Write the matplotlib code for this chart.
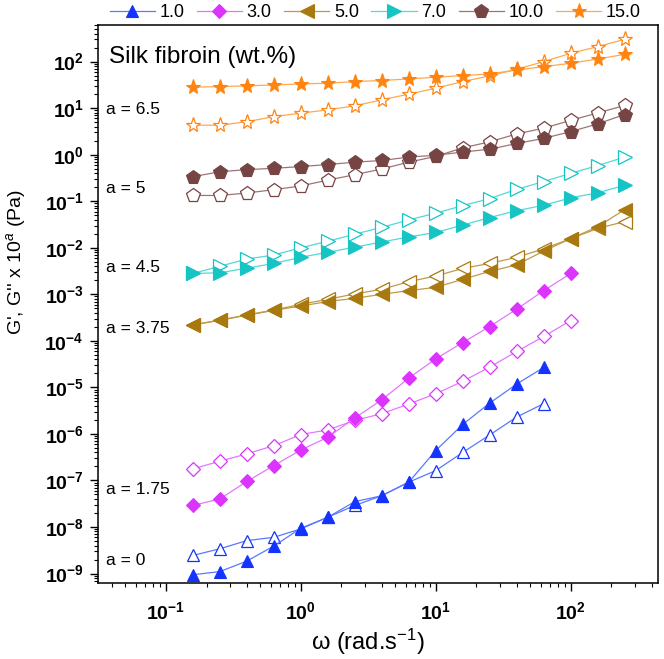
import math
import matplotlib
matplotlib.use('Agg')
import matplotlib.pyplot as plt
from matplotlib.ticker import LogLocator, FuncFormatter, NullFormatter

plt.rcParams['font.family'] = ['Liberation Sans', 'DejaVu Sans']
plt.rcParams['mathtext.fontset'] = 'custom'
plt.rcParams['mathtext.rm'] = 'Liberation Sans'
plt.rcParams['mathtext.it'] = 'Liberation Sans:italic'
plt.rcParams['mathtext.bf'] = 'Liberation Sans:bold'

# angular frequency (rad/s), 5 points per decade
omega = [0.158, 0.251, 0.398, 0.631, 1.0, 1.585, 2.51, 3.98, 6.31, 10.0,
         15.85, 25.1, 39.8, 63.1, 100.0, 158.5, 251.0]

# shifted moduli G' (filled) and G'' (open), by silk fibroin concentration
g1_p = [9.4e-10, 1.1e-9, 1.85e-9, 3.9e-9, 9.4e-9, 1.62e-8, 3.5e-8, 4.7e-8,
        9.2e-8, 4.4e-7, 1.6e-6, 4.6e-6, 1.18e-5, 2.68e-5]
g1_pp = [2.44e-9, 3.4e-9, 5.1e-9, 6.0e-9, 9.1e-9, 1.62e-8, 2.9e-8, 4.7e-8,
         9.2e-8, 1.63e-7, 4.0e-7, 9.5e-7, 2.31e-6, 4.47e-6]

g3_p = [2.9e-8, 4.0e-8, 9.5e-8, 2.09e-7, 4.5e-7, 8.5e-7, 2.2e-6, 5.4e-6,
        1.58e-5, 4.1e-5, 9.2e-5, 2.03e-4, 4.8e-4, 1.2e-3, 2.8e-3]
g3_pp = [1.77e-7, 2.59e-7, 3.72e-7, 5.6e-7, 9.7e-7, 1.22e-6, 1.95e-6, 2.72e-6,
         4.4e-6, 7.3e-6, 1.35e-5, 2.73e-5, 5.9e-5, 1.24e-4, 2.73e-4]

g5_p = [2.2e-4, 2.75e-4, 3.55e-4, 4.5e-4, 5.6e-4, 7.0e-4, 8.2e-4, 1.0e-3,
        1.2e-3, 1.41e-3, 2.1e-3, 3.1e-3, 4.3e-3, 8.5e-3, 1.57e-2, 2.84e-2, 6.6e-2]
g5_pp = [2.2e-4, 2.8e-4, 3.6e-4, 4.6e-4, 6.1e-4, 7.8e-4, 1.02e-3, 1.28e-3,
         1.87e-3, 2.47e-3, 3.6e-3, 4.6e-3, 6.25e-3, 9.5e-3, 1.57e-2, 2.6e-2, 3.65e-2]

g7_p = [2.8e-3, 2.9e-3, 3.65e-3, 4.6e-3, 6.25e-3, 8.0e-3, 1.03e-2, 1.33e-2,
        1.71e-2, 2.13e-2, 3.08e-2, 4.46e-2, 6.25e-2, 8.2e-2, 0.118, 0.152, 0.22]
g7_pp = [2.8e-3, 4.0e-3, 5.74e-3, 7.0e-3, 1.0e-2, 1.38e-2, 1.96e-2, 2.74e-2,
         3.97e-2, 5.56e-2, 8.04e-2, 0.114, 0.18, 0.265, 0.397, 0.584, 0.889]

g10_p = [0.336, 0.43, 0.477, 0.51, 0.555, 0.614, 0.69, 0.75, 0.89, 0.97,
         1.14, 1.31, 1.74, 2.24, 3.13, 4.6, 7.3]
g10_pp = [0.133, 0.133, 0.15, 0.177, 0.213, 0.284, 0.371, 0.493, 0.69, 0.92,
          1.4, 1.89, 2.79, 3.71, 5.46, 7.9, 11.4]

g15_p = [28.2, 29.1, 30.1, 31.6, 33.2, 34.3, 37.3, 39.2, 42.5, 46.1, 50.1,
         54.4, 66.0, 78.0, 92.0, 114.0, 143.0]
g15_pp = [4.3, 4.3, 5.1, 6.6, 7.8, 9.2, 11.2, 15.1, 20.0, 26.8, 37.3, 49.3,
          68.5, 100.0, 151.0, 210.0, 301.0]

labels = ['1.0', '3.0', '5.0', '7.0', '10.0', '15.0']
shift_labels = ['a = 0', 'a = 1.75', 'a = 3.75', 'a = 4.5', 'a = 5', 'a = 6.5']
shift_label_y = [1.86e-9, 6.5e-8, 1.8e-4, 3.7e-3, 0.184, 9.2]
x_ticks = [0.1, 1, 10, 100]
y_ticks = [10.0 ** k for k in range(-9, 3)]

series = [
    (g1_p, g1_pp, '^', '#1433ff', '#5a78ff', 9),
    (g3_p, g3_pp, 'D', '#dd33ff', '#e477ff', 7.5),
    (g5_p, g5_pp, '<', '#a8790f', '#c09a48', 9.5),
    (g7_p, g7_pp, '>', '#17c4c4', '#55d8d8', 9.5),
    (g10_p, g10_pp, 'p', '#774444', '#a07474', 10),
    (g15_p, g15_pp, '*', '#ff8412', '#ffa850', 11),
]

fig = plt.figure(figsize=(6.64, 6.59), dpi=100)
ax = fig.add_axes([0.147, 0.1153, 0.844, 0.847])

handles = []
for (gp, gpp, mk, mc, lc, ms) in series:
    n = len(gp)
    h, = ax.plot(omega[:n], gp, color=lc, lw=0.9, marker=mk, ms=ms,
                 mfc=mc, mec=mc, mew=0.8, zorder=3)
    ax.plot(omega[:n], gpp, color=lc, lw=0.9, marker=mk, ms=ms,
            mfc='white', mec=mc, mew=0.9, zorder=2)
    handles.append(h)

ax.set_xscale('log')
ax.set_yscale('log')
ax.set_xlim(10 ** -1.506, 10 ** 2.647)
ax.set_ylim(10 ** -9.204, 10 ** 2.79)

fmt = FuncFormatter(lambda v, p: r'$\mathbf{10^{%d}}$' % round(math.log10(v)))
ax.set_xticks(x_ticks)
ax.set_yticks(y_ticks)
ax.xaxis.set_minor_locator(LogLocator(base=10, subs=range(2, 10), numticks=40))
ax.yaxis.set_minor_locator(LogLocator(base=10, subs=range(2, 10), numticks=40))
ax.xaxis.set_major_formatter(fmt)
ax.yaxis.set_major_formatter(fmt)
ax.xaxis.set_minor_formatter(NullFormatter())
ax.yaxis.set_minor_formatter(NullFormatter())
ax.tick_params(which='major', direction='out', length=6, width=1, labelsize=14)
ax.tick_params(which='minor', direction='out', length=3, width=0.8)
ax.tick_params(axis='x', pad=7)
ax.tick_params(axis='y', pad=4)
for s in ax.spines.values():
    s.set_linewidth(1.1)

ax.set_xlabel('ω (rad.s$^{-1}$)', fontsize=17)
ax.xaxis.set_label_coords(0.482, -0.078)
ax.set_ylabel("G', G'' x 10$^{a}$ (Pa)", fontsize=14)
ax.yaxis.set_label_coords(-0.124, 0.575)

ax.text(0.038, 126, 'Silk fibroin (wt.%)', fontsize=17.5, ha='left', va='center')
for txt, yv in zip(shift_labels, shift_label_y):
    ax.text(0.036, yv, txt, fontsize=12.5, ha='left', va='center')

fig.legend(handles, labels, loc='upper center', bbox_to_anchor=(0.565, 1.018),
           ncol=6, frameon=False, fontsize=13, handlelength=2.5,
           handletextpad=0.25, columnspacing=0.7, numpoints=1)

fig.savefig('out.png', dpi=100)
